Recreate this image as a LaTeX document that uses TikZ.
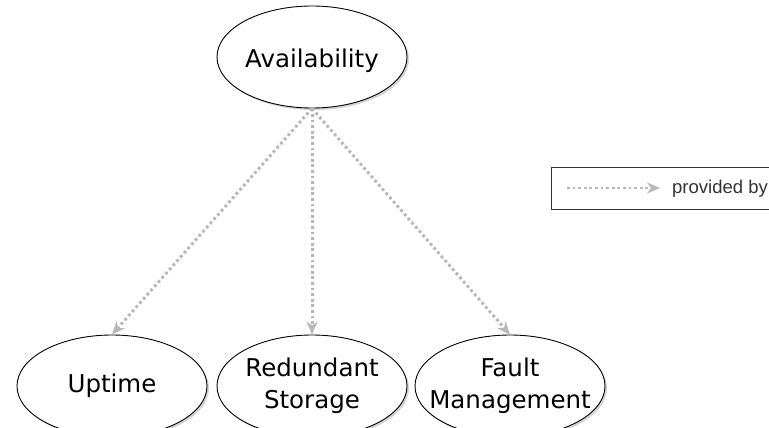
\documentclass[tikz,border=0pt]{standalone}
\usepackage{fontspec}
\setmainfont{DejaVu Sans}
\newfontfamily\legendfont{Liberation Sans}
\usetikzlibrary{shapes.geometric,arrows.meta,shadows}
\definecolor{linegray}{RGB}{184,184,184}
\tikzset{
  x=1pt,y=-1pt,
  concept/.style={ellipse,draw=black,line width=0.9pt,fill=white,minimum width=190pt,minimum height=102pt,inner sep=0pt,align=center,font=\fontsize{24.5}{32}\selectfont,
    drop shadow={shadow xshift=2pt,shadow yshift=-2pt,opacity=0.35,fill=gray}},
  provided/.style={draw=linegray,line width=3pt,dash pattern=on 2.8pt off 2.8pt,-{Stealth[length=13pt,width=11pt,inset=4pt,fill=linegray]}},
  legendbox/.style={draw=black!80,line width=0.9pt,fill=white},
}
\begin{document}
\begin{tikzpicture}
\useasboundingbox (0,0) rectangle (769,428);
\node[concept] (avail) at (312,57) {\raisebox{-4pt}[\height][\depth]{Availability}};
\node[concept] (uptime) at (112,386) {Uptime};
\node[concept] (storage) at (312,386) {\makebox[0pt]{Redundant}\\\makebox[0pt]{Storage}};
\node[concept] (fault) at (510,386) {\makebox[0pt]{Fault}\\\makebox[0pt]{Management}};
\draw[provided] (avail.south) -- (uptime.north);
\draw[provided] (avail.south) -- (storage.north);
\draw[provided] (avail.south) -- (fault.north);
\node[legendbox,minimum width=260pt,minimum height=42pt,anchor=north west] (legend) at (551,167) {};
\coordinate (la) at (567,188);
\coordinate (lb) at (660,188);
\draw[provided,line width=2.5pt] (la) -- (lb);
\node[anchor=west,inner sep=0pt,font=\legendfont\fontsize{18.5}{20}\selectfont,text=black!80] (ltext) at (672,189) {provided by};
\end{tikzpicture}
\end{document}
